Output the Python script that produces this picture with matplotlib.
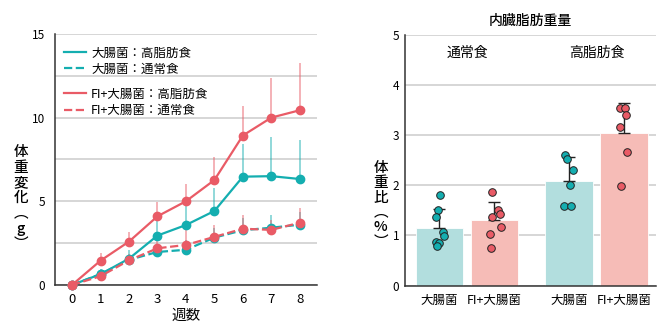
import numpy as np
import matplotlib
matplotlib.use('Agg')
import matplotlib.pyplot as plt
from matplotlib.lines import Line2D

plt.rcParams['font.family'] = ['Noto Sans CJK JP', 'DejaVu Sans']

# 体重変化 (g)
weeks = [0, 1, 2, 3, 4, 5, 6, 7, 8]
bact_hf = [0, 0.64, 1.57, 2.95, 3.58, 4.42, 6.47, 6.5, 6.33]
bact_hf_err = [0, 0.3, 0.5, 1.1, 1.4, 1.4, 1.97, 2.34, 2.31]
bact_nd = [0, 0.65, 1.5, 1.97, 2.1, 2.83, 3.27, 3.42, 3.6]
bact_nd_err = [0, 0.2, 0.3, 0.5, 0.6, 0.6, 0.7, 0.75, 0.75]
fi_hf = [0, 1.45, 2.59, 4.1, 5.0, 6.27, 8.93, 10.0, 10.44]
fi_hf_err = [0, 0.46, 0.58, 0.84, 1.02, 1.36, 1.75, 2.35, 2.81]
fi_nd = [0, 0.52, 1.47, 2.19, 2.39, 2.87, 3.36, 3.29, 3.72]
fi_nd_err = [0, 0.3, 0.4, 0.5, 0.9, 0.7, 0.8, 0.6, 0.9]

# 内臓脂肪重量 (体重比 %)
bar_labels = ['大腸菌', 'FI+大腸菌', '大腸菌', 'FI+大腸菌']
bar_means = [1.15, 1.31, 2.09, 3.05]
bar_err = [0.37, 0.35, 0.47, 0.6]
bar_points = [
    [1.81, 1.51, 1.37, 1.07, 0.98, 0.86, 0.85, 0.79],
    [1.87, 1.51, 1.43, 1.36, 1.17, 1.03, 0.75],
    [2.61, 2.53, 2.31, 2.01, 1.58, 1.58],
    [3.55, 3.55, 3.41, 3.16, 2.67, 1.98],
]
point_jitter = [
    [0.02, -0.02, -0.06, 0.06, 0.09, -0.06, 0.0, -0.05],
    [-0.04, 0.06, 0.1, -0.05, 0.11, -0.08, -0.06],
    [-0.07, -0.03, 0.08, 0.02, -0.08, 0.03],
    [-0.07, 0.01, 0.03, -0.08, 0.05, -0.05],
]
group_labels = ['通常食', '高脂肪食']

teal = '#14AEB0'
red = '#E95B66'
teal_bar = '#B2DEDE'
red_bar = '#F6BCB7'
grid_c = '#CCCCCC'
spine_c = '#333333'

fig = plt.figure(figsize=(6.7, 3.36), dpi=100)

# ---- 左: 体重変化 ----
ax1 = fig.add_axes([0.082, 0.152, 0.391, 0.747])
x = np.array(weeks)
for y, e, c in [(bact_hf, bact_hf_err, teal), (bact_nd, bact_nd_err, teal),
                (fi_hf, fi_hf_err, red), (fi_nd, fi_nd_err, red)]:
    y = np.array(y)
    ax1.vlines(x[1:], y[1:], y[1:] + np.array(e)[1:], color=c, alpha=0.55, lw=1.2, zorder=2)

ax1.plot(x, bact_hf, '-o', color=teal, lw=1.6, ms=6, zorder=3, clip_on=False)
ax1.plot(x, bact_nd, '--o', color=teal, lw=1.6, ms=6, zorder=3, clip_on=False)
ax1.plot(x, fi_hf, '-o', color=red, lw=1.6, ms=6, zorder=4, clip_on=False)
ax1.plot(x, fi_nd, '--o', color=red, lw=1.6, ms=6, zorder=4, clip_on=False)

ax1.set_xlim(-0.6, 8.6)
ax1.set_ylim(0, 15)
ax1.set_xticks(weeks)
ax1.set_yticks([0, 5, 10, 15])
ax1.set_yticks([2.5, 7.5, 12.5], minor=True)
ax1.grid(axis='y', which='both', color=grid_c, lw=1.1, zorder=0)
ax1.set_axisbelow(True)
ax1.tick_params(which='both', length=0)
ax1.tick_params(axis='x', labelsize=9.5, pad=6)
ax1.tick_params(axis='y', labelsize=8.5, pad=7)
for s in ['top', 'right']:
    ax1.spines[s].set_visible(False)
for s in ['left', 'bottom']:
    ax1.spines[s].set_color(spine_c)
    ax1.spines[s].set_linewidth(1.1)
ax1.set_xlabel('週数', fontsize=10.5, labelpad=2)
fig.text(0.031, 0.41, '体\n重\n変\n化\n︵\ng\n︶', ha='center', va='center',
         fontsize=10.5, linespacing=1.12, fontweight='medium')

h1 = [Line2D([], [], color=teal, lw=1.6, ls='-'), Line2D([], [], color=teal, lw=1.6, ls='--')]
h2 = [Line2D([], [], color=red, lw=1.6, ls='-'), Line2D([], [], color=red, lw=1.6, ls='--')]
leg1 = ax1.legend(h1, ['大腸菌：高脂肪食', '大腸菌：通常食'], loc='upper left',
                  bbox_to_anchor=(0.0, 0.985), frameon=False, fontsize=9,
                  handlelength=1.8, handletextpad=0.4, labelspacing=0.25, borderaxespad=0.3)
ax1.add_artist(leg1)
ax1.legend(h2, ['FI+大腸菌：高脂肪食', 'FI+大腸菌：通常食'], loc='upper left',
           bbox_to_anchor=(0.0, 0.82), frameon=False, fontsize=9,
           handlelength=1.8, handletextpad=0.4, labelspacing=0.25, borderaxespad=0.3)

# ---- 右: 内臓脂肪重量 ----
ax2 = fig.add_axes([0.604, 0.150, 0.375, 0.746])
pos = np.array([0, 1, 2.35, 3.35])
bar_cols = [teal_bar, red_bar, teal_bar, red_bar]
dot_cols = [teal, red, teal, red]
ax2.bar(pos, bar_means, width=0.86, color=bar_cols, edgecolor='white', lw=0.6, zorder=2)
for p, m, e in zip(pos, bar_means, bar_err):
    ax2.errorbar(p, m, yerr=[[0], [e]], color='#222222', lw=1.0, capsize=4,
                 capthick=1.0, zorder=3)
for p, pts, jit, c in zip(pos, bar_points, point_jitter, dot_cols):
    ax2.scatter(p + np.array(jit), pts, s=30, color=c, edgecolor='#222222',
                lw=0.7, zorder=4)

ax2.set_xlim(-0.63, 3.93)
ax2.set_ylim(0, 5)
ax2.set_yticks([0, 1, 2, 3, 4, 5])
ax2.set_xticks(pos)
ax2.set_xticklabels(bar_labels)
ax2.grid(axis='y', color=grid_c, lw=1.1, zorder=0)
ax2.set_axisbelow(True)
ax2.tick_params(length=0)
ax2.tick_params(axis='x', labelsize=9, pad=6)
ax2.tick_params(axis='y', labelsize=8.5, pad=4)
for s in ['top', 'right']:
    ax2.spines[s].set_visible(False)
for s in ['left', 'bottom']:
    ax2.spines[s].set_color(spine_c)
    ax2.spines[s].set_linewidth(1.1)
ax2.set_title('内臓脂肪重量', fontsize=10, pad=7, fontweight='medium')
for gx, gl in zip([(pos[0] + pos[1]) / 2, (pos[2] + pos[3]) / 2], group_labels):
    ax2.text(gx, 4.64, gl, ha='center', va='center', fontsize=10)
fig.text(0.568, 0.39, '体\n重\n比\n︵\n%\n︶', ha='center', va='center',
         fontsize=10.5, linespacing=1.08, fontweight='medium')

fig.savefig('out.png', dpi=100)
